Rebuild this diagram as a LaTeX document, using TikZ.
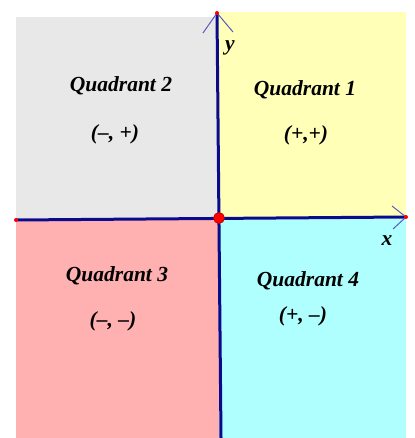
\documentclass[tikz,border=0pt]{standalone}
\usepackage{fontspec}
\setmainfont{Liberation Serif}
\begin{document}
\begin{tikzpicture}[x=1pt,y=-1pt,
  lbl/.style={font=\fontsize{21.5}{24}\selectfont\bfseries\itshape, text=black, inner sep=0pt},
  axis/.style={draw=axisblue, line width=3pt},
  head/.style={draw=headblue, line width=1pt},
  enddot/.style={fill=red, draw=none}]
\definecolor{axisblue}{HTML}{0A0A8C}
\definecolor{headblue}{HTML}{5A5AC0}
\definecolor{qgray}{HTML}{E8E8E8}
\definecolor{qyellow}{HTML}{FFFFB8}
\definecolor{qpink}{HTML}{FFB0B0}
\definecolor{qcyan}{HTML}{B0FFFF}
\useasboundingbox[fill=white] (0,0) rectangle (414,438);
% quadrants
\fill[qgray] (16,17) rectangle (218,218);
\fill[qyellow] (218,12) rectangle (406,218);
\fill[qpink] (16,219) rectangle (219,438);
\fill[qcyan] (219,219) rectangle (406,438);
% coordinates
\coordinate (O) at (219,218);
\coordinate (ytop) at (217,13);
\coordinate (ybot) at (221,438);
\coordinate (xl) at (16,220);
\coordinate (xr) at (406,217);
% axes
\draw[axis] (ybot) -- (ytop);
\draw[axis] (xl) -- (xr);
% arrowheads
\draw[head] (203,33) -- (ytop) -- (233,32);
\draw[head] (392,206) -- (xr) -- (393,229);
% dots
\fill[enddot] (ytop) circle (2);
\fill[enddot] (xl) circle (2);
\fill[enddot] (xr) circle (2);
\fill[red, draw=red!70!black, line width=0.6pt] (O) circle (5.5);
% labels
\node[lbl] (ylab) at (230,48) {y};
\node[lbl] (xlab) at (387,241) {x};
\node[lbl] (q2) at (121,86) {Quadrant 2};
\node[lbl] (s2) at (115,134) {(--, +)};
\node[lbl] (q1) at (305,90) {Quadrant 1};
\node[lbl] (s1) at (306,135) {(+,+)};
\node[lbl] (q3) at (117,276) {Quadrant 3};
\node[lbl] (s3) at (113,321) {(--, --)};
\node[lbl] (q4) at (308,281) {Quadrant 4};
\node[lbl] (s4) at (303,316) {(+, --)};
\end{tikzpicture}
\end{document}
